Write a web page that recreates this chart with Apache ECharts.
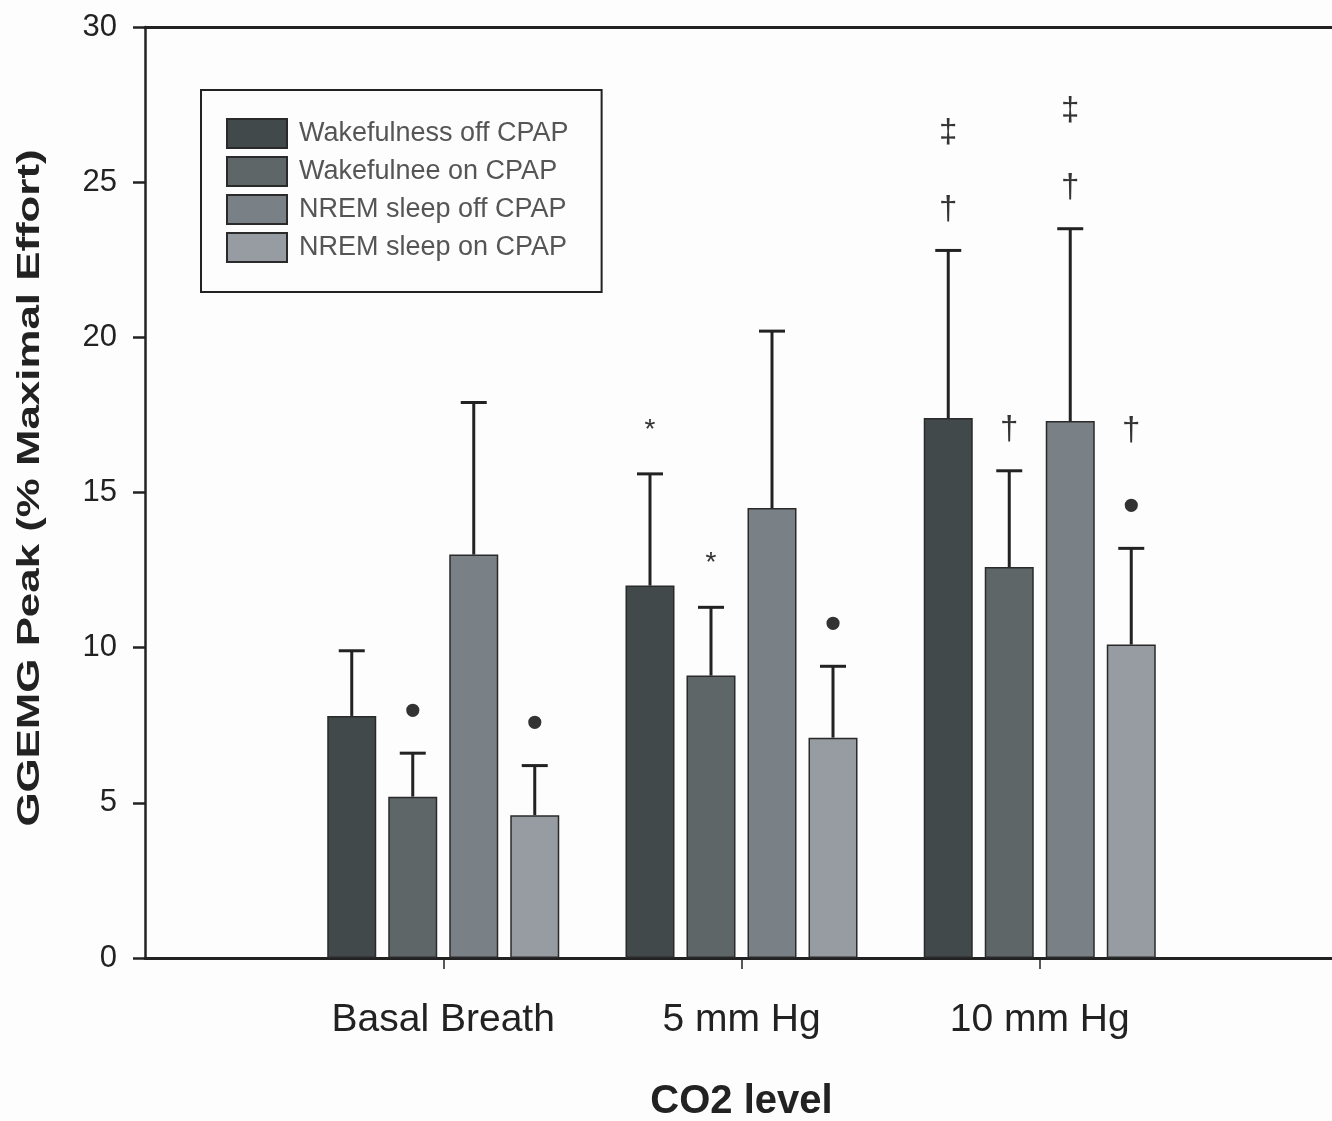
<!DOCTYPE html>
<html>
<head>
<meta charset="utf-8">
<script src="https://cdn.jsdelivr.net/npm/echarts@6/dist/echarts.min.js"></script>
<style>
  html, body { margin: 0; padding: 0; background: #fdfdfd; }
  #chart { width: 1332px; height: 1121px; }
</style>
</head>
<body>
<div id="chart"></div>
<script>
// categories (empty slots at both ends so the groups sit on the ticks)
const categories = ['', 'Basal Breath', '5 mm Hg', '10 mm Hg', ''];
const seriesNames = ['Wakefulness off CPAP', 'Wakefulnee on CPAP', 'NREM sleep off CPAP', 'NREM sleep on CPAP'];

// bar means
const wakeOffMean = ['-', 7.8, 12.0, 17.4, '-'];
const wakeOnMean = ['-', 5.2, 9.1, 12.6, '-'];
const nremOffMean = ['-', 13.0, 14.5, 17.3, '-'];
const nremOnMean = ['-', 4.6, 7.1, 10.1, '-'];

// top of the error bars
const wakeOffTop = ['-', 9.9, 15.6, 22.8, '-'];
const wakeOnTop = ['-', 6.6, 11.3, 15.7, '-'];
const nremOffTop = ['-', 17.9, 20.2, 23.5, '-'];
const nremOnTop = ['-', 6.2, 9.4, 13.2, '-'];

// significance marks above each bar (bottom first)
const wakeOffMarks = [[], [], ['*'], ['†', '‡'], []];
const wakeOnMarks = [[], ['•'], ['*'], ['†'], []];
const nremOffMarks = [[], [], [], ['†', '‡'], []];
const nremOnMarks = [[], ['•'], ['•'], ['•', '†'], []];

const yTicks = { min: 0, max: 30, interval: 5 };

const colors = ['#41494b', '#5f6668', '#7a8186', '#969ca1'];
const FONT = 'Arial, "Liberation Sans", sans-serif';
const BAR_W = 49;
const BAR_GAP = 12;

const means = [wakeOffMean, wakeOnMean, nremOffMean, nremOnMean];
const tops = [wakeOffTop, wakeOnTop, nremOffTop, nremOnTop];
const marks = [wakeOffMarks, wakeOnMarks, nremOffMarks, nremOnMarks];

// glyph look per mark: font and small vertical nudge
const markStyle = {
    '•': { font: 'bold 46px ', dy: 2 },
    '*': { font: '28px ', dy: -2 },
    '†': { font: '33px ', dy: 1 },
    '‡': { font: '33px ', dy: 0 }
};

const myChart = echarts.init(document.getElementById('chart'));

function errorSeries(si) {
    const data = [];
    means[si].forEach((m, ci) => {
        if (m !== '-') data.push([ci, m, tops[si][ci]]);
    });
    const offset = (si - 1.5) * (BAR_W + BAR_GAP);
    return {
        type: 'custom',
        z: 5,
        clip: false,
        silent: true,
        data: data,
        renderItem: function (params, api) {
            const ci = api.value(0);
            const base = api.coord([ci, api.value(1)]);
            const top = api.coord([ci, api.value(2)]);
            const x = base[0] + offset;
            const lineStyle = { stroke: '#222', lineWidth: 3 };
            const children = [
                { type: 'line', shape: { x1: x, y1: base[1], x2: x, y2: top[1] }, style: lineStyle },
                { type: 'line', shape: { x1: x - 13, y1: top[1], x2: x + 13, y2: top[1] }, style: lineStyle }
            ];
            const symbols = marks[si][ci] || [];
            symbols.forEach((s, k) => {
                const ms = markStyle[s];
                children.push({
                    type: 'text',
                    x: x,
                    y: top[1] - 42 - k * 76 + ms.dy,
                    style: {
                        text: s,
                        fill: '#333',
                        font: ms.font + FONT,
                        align: 'center',
                        verticalAlign: 'middle'
                    }
                });
            });
            return { type: 'group', children: children };
        }
    };
}

const barSeries = seriesNames.map((name, si) => ({
    name: name,
    type: 'bar',
    barWidth: BAR_W,
    barGap: (BAR_GAP / BAR_W * 100).toFixed(1) + '%',
    itemStyle: { color: colors[si], borderColor: '#2a2a2a', borderWidth: 1.5 },
    data: means[si]
}));

const option = {
    backgroundColor: '#fdfdfd',
    animation: false,
    textStyle: { fontFamily: FONT },
    grid: { left: 145, right: -6, top: 27, bottom: 163, outerBoundsMode: 'none' },
    legend: {
        data: seriesNames.map(n => ({ name: n, icon: 'rect' })),
        orient: 'vertical',
        left: 201,
        top: 90,
        itemWidth: 60,
        itemHeight: 29,
        itemGap: 7,
        padding: [28, 33, 29, 25],
        borderColor: '#222',
        borderWidth: 2,
        backgroundColor: '#fdfdfd',
        selectedMode: false,
        textStyle: { fontSize: 27, color: '#555', fontFamily: FONT, padding: [0, 0, 0, 7] }
    },
    xAxis: [{
        type: 'category',
        data: categories,
        boundaryGap: false,
        name: 'CO2 level',
        nameLocation: 'middle',
        nameGap: 124,
        nameTextStyle: { fontSize: 40, fontWeight: 'bold', color: '#222', fontFamily: FONT },
        axisLine: { lineStyle: { color: '#222', width: 3 } },
        axisTick: {
            alignWithLabel: true,
            length: 11,
            interval: (i, v) => v !== '',
            lineStyle: { color: '#222', width: 1.5 }
        },
        axisLabel: {
            interval: 0,
            fontSize: 39,
            color: '#222',
            margin: 43,
            fontFamily: FONT
        },
        splitLine: { show: false }
    }, {
        type: 'category',
        data: categories,
        boundaryGap: false,
        position: 'top',
        axisLine: { lineStyle: { color: '#222', width: 3 } },
        axisTick: { show: false },
        axisLabel: { show: false }
    }],
    yAxis: {
        type: 'value',
        min: yTicks.min,
        max: yTicks.max,
        interval: yTicks.interval,
        axisLine: { show: true, lineStyle: { color: '#222', width: 2.5 } },
        axisTick: { show: true, length: 12, lineStyle: { color: '#222', width: 2.5 } },
        axisLabel: { fontSize: 31, color: '#222', margin: 28, fontFamily: FONT },
        splitLine: { show: false }
    },
    graphic: [{
        type: 'text',
        x: 30,
        y: 488,
        rotation: Math.PI / 2,
        scaleX: 1.37,
        style: {
            text: 'GGEMG Peak (% Maximal Effort)',
            font: 'bold 32px ' + FONT,
            fill: '#222',
            align: 'center',
            verticalAlign: 'middle'
        }
    }],
    series: barSeries.concat([0, 1, 2, 3].map(errorSeries))
};

myChart.setOption(option);
window.addEventListener('resize', () => myChart.resize());
</script>
</body>
</html>
